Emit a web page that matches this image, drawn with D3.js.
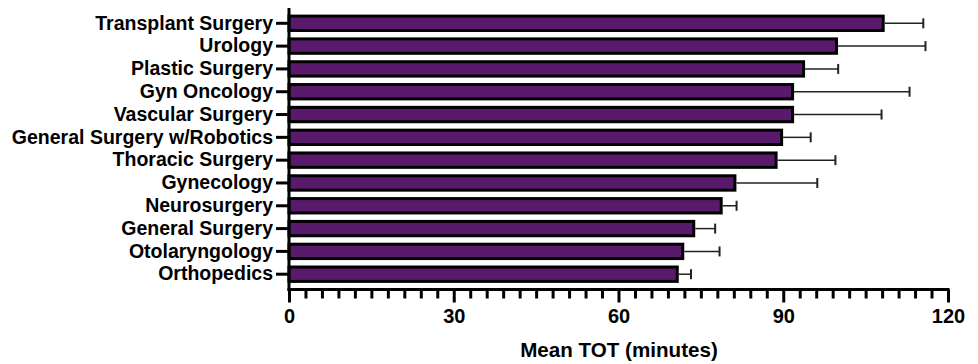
<!DOCTYPE html>
<html>
<head>
<meta charset="utf-8">
<script src="https://cdn.jsdelivr.net/npm/d3@7"></script>
<style>
  html, body { margin: 0; padding: 0; background: #fff; }
  svg { display: block; font-family: "Liberation Sans", Arial, Helvetica, sans-serif; }
</style>
</head>
<body>
<svg id="chart" width="978" height="364"></svg>
<script>
const categories = ["Transplant Surgery", "Urology", "Plastic Surgery", "Gyn Oncology", "Vascular Surgery",
  "General Surgery w/Robotics", "Thoracic Surgery", "Gynecology", "Neurosurgery", "General Surgery",
  "Otolaryngology", "Orthopedics"];
const meanValues = [108.2, 99.7, 93.7, 91.7, 91.7, 89.7, 88.7, 81.2, 78.7, 73.7, 71.7, 70.7];
const errorValues = [7.3, 16.2, 6.3, 21.3, 16.2, 5.3, 10.8, 15.0, 2.8, 3.9, 6.7, 2.5];
const majorTicks = [0, 30, 60, 90, 120];
const minorStep = 3;
const xTitle = "Mean TOT (minutes)";

(function () {
const svg = d3.select("#chart");
const mLeft = 289, mRight = 948, mTop = 12, mBottom = 285.5, axisY = 289.5;

const x = d3.scaleLinear().domain([0, 120]).range([mLeft, mRight]);
const y = d3.scaleBand().domain(categories).range([mTop, mBottom]).paddingInner(0.37).paddingOuter(0.18);

const barColor = "#5a1a6c";

// bars
svg.append("g").selectAll("rect").data(categories).join("rect")
  .attr("x", x(0))
  .attr("y", d => y(d))
  .attr("width", (d, i) => x(meanValues[i]) - x(0))
  .attr("height", y.bandwidth())
  .attr("fill", barColor)
  .attr("stroke", "#000")
  .attr("stroke-width", 3);

// error bars (upper side)
const eg = svg.append("g").attr("stroke", "#222").attr("stroke-width", 1.5);
categories.forEach((c, i) => {
  const cy = y(c) + y.bandwidth() / 2;
  const x1 = x(meanValues[i]) + 1.5;
  const x2 = x(meanValues[i] + errorValues[i]);
  eg.append("line").attr("x1", x1).attr("x2", x2).attr("y1", cy).attr("y2", cy);
  eg.append("line").attr("x1", x2).attr("x2", x2).attr("y1", cy - 5).attr("y2", cy + 5).attr("stroke-width", 2);
});

// y axis
const yAxisG = svg.append("g").attr("transform", `translate(${mLeft},0)`)
  .call(d3.axisLeft(y).tickSize(13).tickPadding(3));
yAxisG.select(".domain").remove();
yAxisG.selectAll(".tick line").attr("stroke", "#000").attr("stroke-width", 3);
yAxisG.selectAll(".tick text")
  .attr("font-size", 19.5).attr("font-weight", "bold").attr("fill", "#000")
  .attr("font-family", "'Liberation Sans', Arial, Helvetica, sans-serif");
svg.append("line").attr("x1", mLeft).attr("x2", mLeft).attr("y1", 8).attr("y2", axisY + 1.5)
  .attr("stroke", "#000").attr("stroke-width", 3);

// x axis: minor ticks
const minorTicks = d3.range(0, 121, minorStep).filter(v => !majorTicks.includes(v));
const minorG = svg.append("g").attr("transform", `translate(0,${axisY})`)
  .call(d3.axisBottom(x).tickValues(minorTicks).tickSize(9).tickFormat(""));
minorG.select(".domain").remove();
minorG.selectAll(".tick line").attr("stroke", "#000").attr("stroke-width", 3);

// x axis: major ticks
const majorG = svg.append("g").attr("transform", `translate(0,${axisY})`)
  .call(d3.axisBottom(x).tickValues(majorTicks).tickSize(13).tickPadding(6.5).tickFormat(d3.format("d")));
majorG.select(".domain").remove();
majorG.selectAll(".tick line").attr("stroke", "#000").attr("stroke-width", 3);
majorG.selectAll(".tick text")
  .attr("font-size", 20).attr("font-weight", "bold").attr("fill", "#000")
  .attr("font-family", "'Liberation Sans', Arial, Helvetica, sans-serif");

svg.append("line").attr("x1", mLeft - 1.5).attr("x2", mRight + 1.5).attr("y1", axisY).attr("y2", axisY)
  .attr("stroke", "#000").attr("stroke-width", 3);

svg.append("text").attr("x", 619).attr("y", 357)
  .attr("text-anchor", "middle").attr("font-size", 20.6).attr("font-weight", "bold").attr("fill", "#000")
  .text(xTitle);
})();
</script>
</body>
</html>
